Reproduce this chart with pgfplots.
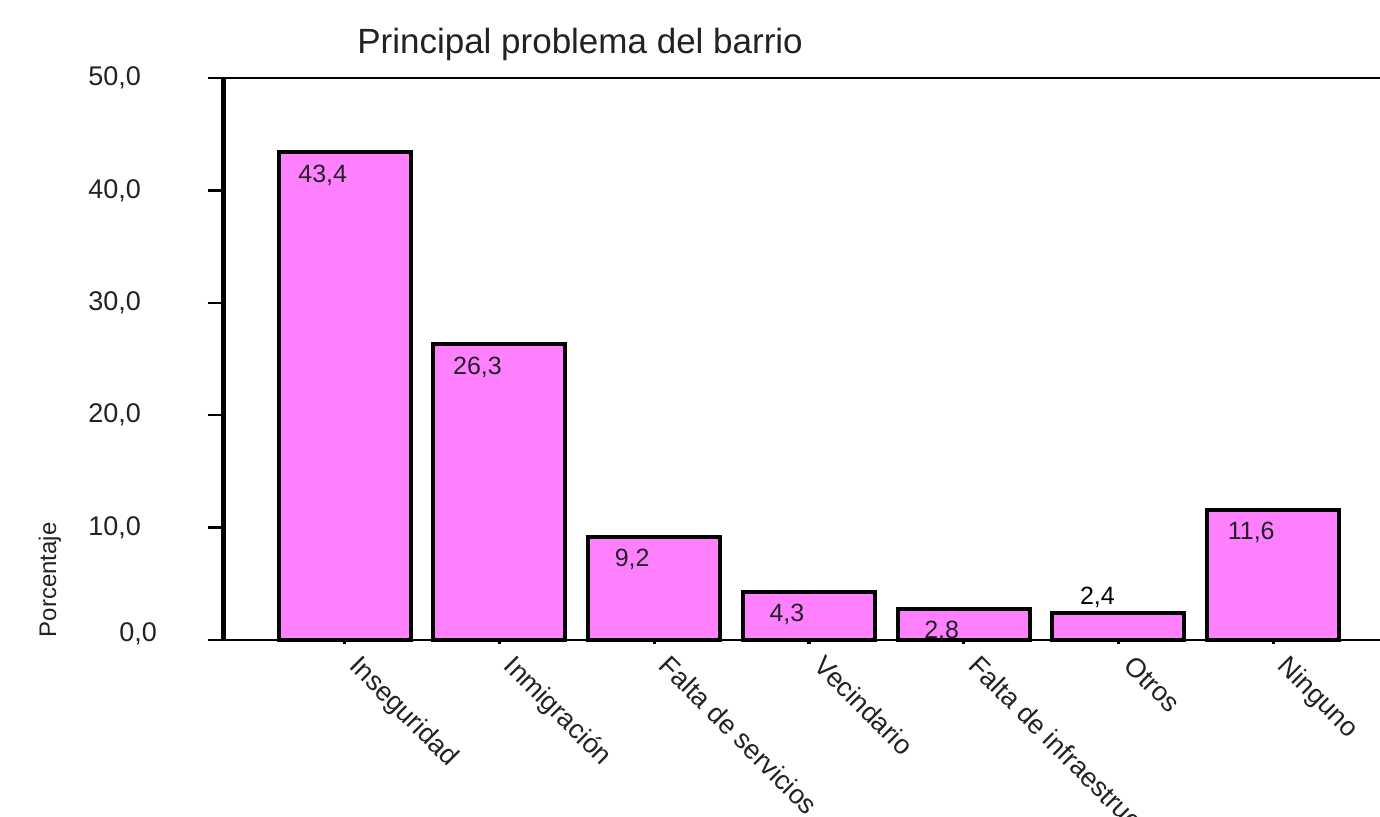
\documentclass[border=0pt]{standalone}
\usepackage{pgfplots}
\pgfplotsset{compat=1.18}
\usepackage{pgfplotstable}
\usepackage{fontspec}
\setmainfont{Liberation Sans}
\definecolor{barpink}{HTML}{FF80FF}
\definecolor{txt}{HTML}{222222}

\pgfplotstableread{
x y lab
0 43.4 {43,4}
1 26.3 {26,3}
2 9.2 {9,2}
3 4.3 {4,3}
4 2.8 {2,8}
5 2.4 {}
6 11.6 {11,6}
}\data

\begin{document}
\begin{tikzpicture}
\begin{axis}[
  at={(0,0)}, anchor=south west,
  scale only axis, width=578pt, height=281pt,
  xmin=-0.78, xmax=6.69, ymin=0, ymax=50,
  axis x line*=bottom, axis y line*=left,
  x axis line style={line width=1.2pt, -},
  y axis line style={line width=2.5pt, -},
  tick align=outside,
  major tick length=8pt,
  ytick={0,10,20,30,40,50},
  yticklabels={{\raisebox{7.5pt}{0,0}\hspace*{-8pt}},{10,0},{20,0},{30,0},{40,0},{50,0}},
  y tick style={line width=1.2pt, black},
  yticklabel style={font=\fontsize{13.5}{15}\selectfont, text=txt, xshift=-30pt},
  xtick={0,...,6},
  xticklabels={Inseguridad,Inmigración,Falta de servicios,Vecindario,Falta de infraestruc,Otros,Ninguno},
  x tick style={line width=1.6pt, black, /pgfplots/major tick length=2pt},
  xticklabel style={font=\fontsize{13.5}{15}\selectfont, text=txt, rotate=-45, anchor=north west, xshift=1.85pt, yshift=10.45pt},
  ylabel={Porcentaje},
  ylabel style={at={([xshift=-87pt]rel axis cs:0,0.107)}, anchor=center, font=\fontsize{12}{14}\selectfont, text=txt},
  title={Principal problema del barrio},
  title style={at={(rel axis cs:0.308,1)}, anchor=center, yshift=11pt, font=\fontsize{17.5}{20}\selectfont, text=txt},
  clip=false,
]
\addplot[ybar, bar width=66pt, bar shift=0pt, fill=barpink, draw=black, line width=2pt,
  point meta=explicit symbolic,
  nodes near coords,
  every node near coord/.style={anchor=center, xshift=-11pt, yshift=-11.5pt, font=\fontsize{12.5}{14}\selectfont, text=txt}]
  table[x=x, y=y, meta=lab] {\data};
\addplot[only marks, mark=none,
  point meta=explicit symbolic,
  nodes near coords,
  every node near coord/.style={anchor=center, xshift=-10.5pt, yshift=8pt, font=\fontsize{12.5}{14}\selectfont, text=black}]
  coordinates {(5,2.4) [{2,4}]};
\draw[line width=1.2pt] (rel axis cs:0,1) -- (rel axis cs:1,1);
\end{axis}
\pgfresetboundingbox
\useasboundingbox (-112pt,-88pt) rectangle (578pt,320pt);
\end{tikzpicture}
\end{document}
